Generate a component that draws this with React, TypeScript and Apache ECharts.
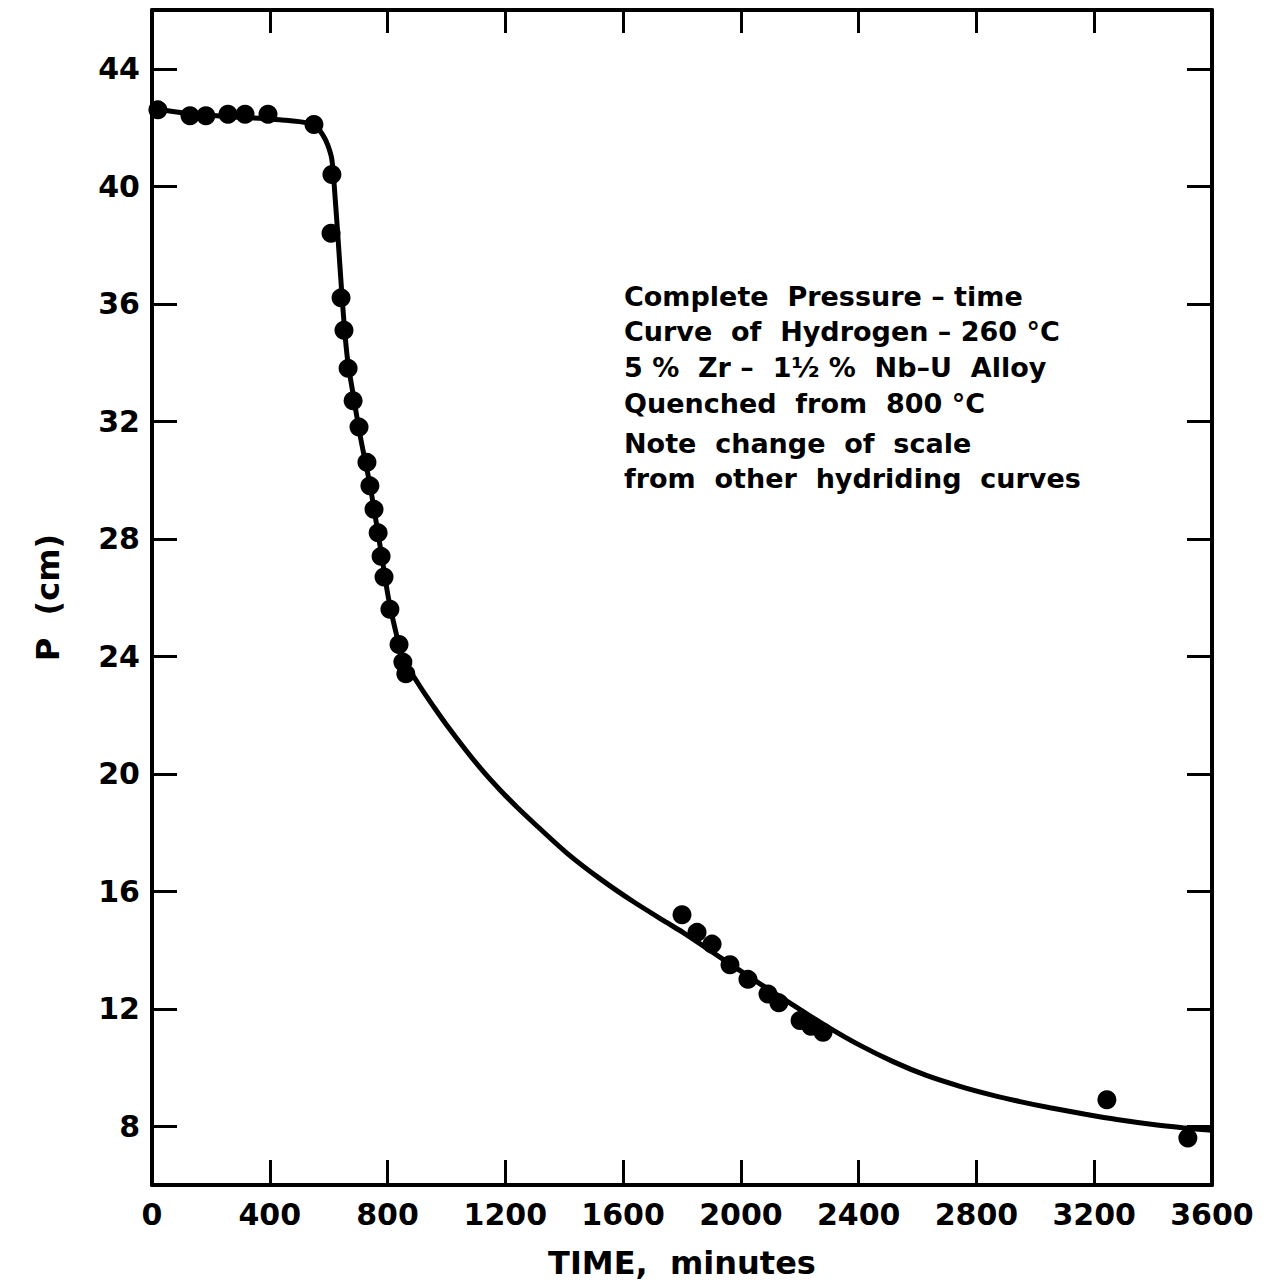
import React, { useEffect, useRef } from "react";
import * as echarts from "echarts";

const pointTime = [20, 129, 183, 258, 316, 394, 550, 611, 608, 642, 652, 666, 683, 703, 730, 740, 754, 768, 778, 788, 808, 839, 852, 862, 1800, 1851, 1902, 1963, 2024, 2092, 2129, 2201, 2238, 2279, 3243, 3518];
const pointP = [42.6, 42.4, 42.4, 42.45, 42.45, 42.45, 42.1, 40.4, 38.4, 36.2, 35.1, 33.8, 32.7, 31.8, 30.6, 29.8, 29.0, 28.2, 27.4, 26.7, 25.6, 24.4, 23.8, 23.4, 15.2, 14.6, 14.2, 13.5, 13.0, 12.5, 12.2, 11.6, 11.4, 11.2, 8.9, 7.6];

const curveTime = [0, 150, 300, 450, 530, 560, 580, 597, 611, 622, 632, 645, 656, 666, 680, 695, 710, 725, 740, 755, 770, 785, 800, 815, 830, 845, 858, 870, 886, 920, 954, 1000, 1070, 1130, 1182, 1240, 1294, 1409, 1521, 1634, 1749, 1803, 1900, 2000, 2100, 2200, 2300, 2400, 2517, 2630, 2744, 2850, 2948, 3050, 3170, 3277, 3400, 3501, 3600];
const curveP = [42.65, 42.45, 42.35, 42.25, 42.15, 42.0, 41.75, 41.4, 40.9, 39.6, 38.2, 36.3, 34.9, 33.95, 33.1, 32.2, 31.35, 30.6, 29.85, 28.95, 28.05, 27.1, 26.15, 25.4, 24.75, 24.15, 23.8, 23.55, 23.35, 22.82, 22.32, 21.67, 20.75, 20.02, 19.45, 18.86, 18.35, 17.3, 16.43, 15.65, 14.93, 14.6, 13.95, 13.28, 12.62, 11.98, 11.35, 10.78, 10.2, 9.73, 9.36, 9.07, 8.84, 8.63, 8.41, 8.23, 8.06, 7.95, 7.86];

const xTicks = [0, 400, 800, 1200, 1600, 2000, 2400, 2800, 3200, 3600];
const yTicks = [8, 12, 16, 20, 24, 28, 32, 36, 40, 44];

const noteLines = [
  "Complete  Pressure – time",
  "Curve  of  Hydrogen – 260 °C",
  "5 %  Zr –  1½ %  Nb–U  Alloy",
  "Quenched  from  800 °C",
  "Note  change  of  scale",
  "from  other  hydriding  curves",
];
const noteY = [296, 331, 367, 403, 443, 478];

const FONT = "DejaVu Sans";

export default function App() {
  const ref = useRef<HTMLDivElement>(null);
  useEffect(() => {
    if (!ref.current) return;
    const chart = echarts.init(ref.current, null, { renderer: "svg" });
    const axisLine = { show: true, lineStyle: { color: "#000", width: 4 } };
    const tick = { show: true, inside: true, length: 25, lineStyle: { color: "#000", width: 3 } };
    const fmt = (v: number) => String(v);
    chart.setOption({
      animation: false,
      backgroundColor: "#fff",
      grid: { left: 152, right: 61, top: 10, bottom: 103 },
      xAxis: [
        {
          type: "value",
          min: 0,
          max: 3600,
          interval: 400,
          position: "bottom",
          axisLine,
          axisTick: tick,
          splitLine: { show: false },
          axisLabel: {
            color: "#000",
            fontSize: 30,
            fontWeight: "bold",
            fontFamily: FONT,
            margin: 14,
            customValues: xTicks,
            formatter: fmt,
          },
          name: "TIME,  minutes",
          nameLocation: "middle",
          nameGap: 62,
          nameTextStyle: { color: "#000", fontSize: 32, fontWeight: "bold", fontFamily: FONT },
        },
        {
          type: "value",
          min: 0,
          max: 3600,
          interval: 400,
          position: "top",
          axisLine,
          axisTick: { ...tick, length: 23 },
          splitLine: { show: false },
          axisLabel: { show: false },
        },
      ],
      yAxis: [
        {
          type: "value",
          min: 6,
          max: 46,
          position: "left",
          axisLine,
          axisTick: { show: false },
          splitLine: { show: false },
          axisLabel: {
            color: "#000",
            fontSize: 30,
            fontWeight: "bold",
            fontFamily: FONT,
            margin: 12,
            customValues: yTicks,
            formatter: fmt,
          },
          name: "P  (cm)",
          nameLocation: "middle",
          nameRotate: 90,
          nameGap: 88,
          nameTextStyle: { color: "#000", fontSize: 32, fontWeight: "bold", fontFamily: FONT },
        },
        {
          type: "value",
          min: 6,
          max: 46,
          position: "left",
          offset: 0,
          axisLine: { show: false },
          axisTick: { ...tick, customValues: yTicks },
          splitLine: { show: false },
          axisLabel: { show: false },
        },
        {
          type: "value",
          min: 6,
          max: 46,
          position: "right",
          axisLine,
          axisTick: { ...tick, customValues: yTicks },
          splitLine: { show: false },
          axisLabel: { show: false },
        },
      ],
      series: [
        {
          type: "line",
          data: curveTime.map((t, i) => [t, curveP[i]]),
          smooth: 0.3,
          showSymbol: false,
          symbol: "none",
          lineStyle: { color: "#000", width: 5 },
          z: 2,
        },
        {
          type: "scatter",
          data: pointTime.map((t, i) => [t, pointP[i]]),
          symbol: "circle",
          symbolSize: 19,
          itemStyle: { color: "#000", opacity: 1 },
          z: 3,
        },
      ],
      graphic: noteLines.map((t, i) => ({
        type: "text",
        x: 624,
        y: noteY[i],
        style: {
          text: t,
          fontSize: 27,
          fontWeight: "bold",
          fontFamily: FONT,
          fill: "#000",
          verticalAlign: "middle",
          textVerticalAlign: "middle",
        },
      })),
    });
    return () => chart.dispose();
  }, []);
  return (
    <div
      ref={ref}
      style={{ position: "fixed", left: 0, top: 0, width: 1273, height: 1288, background: "#fff" }}
    />
  );
}
